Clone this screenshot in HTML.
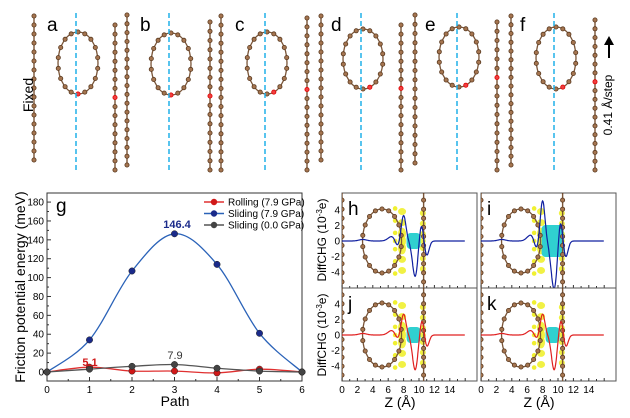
<!DOCTYPE html>
<html><head><meta charset="utf-8">
<style>
body{margin:0;background:#fff;}
svg{display:block;font-family:"Liberation Sans",sans-serif;}
</style></head><body>
<svg id="s" width="630" height="418" viewBox="0 0 630 418" xmlns="http://www.w3.org/2000/svg"></svg>
<script>
var o='';
var AF='#a57550',AS='#5a3a20',LC='#7a5538',R=2.1;
function atom(x,y,red){o+='<circle cx="'+x.toFixed(1)+'" cy="'+y.toFixed(1)+'" r="'+R+'" fill="'+(red?'#f04040':AF)+'" stroke="'+(red?'#d00':AS)+'" stroke-width="0.8"/>';}
function chain(x,y0,y1,redY){
  var n=Math.round((y1-y0)/9);var st=(y1-y0)/n;
  o+='<line x1="'+x+'" y1="'+y0+'" x2="'+x+'" y2="'+y1+'" stroke="'+LC+'" stroke-width="1.4"/>';
  for(var i=0;i<=n;i++){var y=y0+i*st;
    atom(x,y,(redY!=null&&Math.abs(y-redY)<st/2));}
}
function ring(cx,cy,rx,ry,redAng,n){
  n=n||18;
  o+='<ellipse cx="'+cx+'" cy="'+cy+'" rx="'+rx+'" ry="'+ry+'" fill="none" stroke="'+LC+'" stroke-width="1.3"/>';
  for(var i=0;i<n;i++){var a=i/n*2*Math.PI;atom(cx+rx*Math.sin(a),cy-ry*Math.cos(a),redAng!=null&&i==redAng);}
}
var P=[
 {L:34,Ly:[16,160],d:76,R:115,Ry:[25,170],cy:63,ry:31,red:93,ra:9,lab:'a',lx:47},
 {L:127,Ly:[15,165],d:169,R:210,Ry:[22,170],cy:64,ry:31,red:92,ra:9,lab:'b',lx:140},
 {L:221,Ly:[16,170],d:265,R:307,Ry:[18,170],cy:63,ry:31,red:90,ra:8,lab:'c',lx:235},
 {L:321,Ly:[16,160],d:361,R:401,Ry:[25,170],cy:59,ry:30,red:84,ra:8,lab:'d',lx:331},
 {L:415,Ly:[15,163],d:457,R:497,Ry:[22,170],cy:57,ry:30,red:80,ra:8,lab:'e',lx:425},
 {L:511,Ly:[16,165],d:554,R:595,Ry:[20,170],cy:58,ry:31,red:80,ra:8,lab:'f',lx:520}
];
P.forEach(function(p){
  chain(p.L,p.Ly[0],p.Ly[1],null);
  chain(p.R,p.Ry[0],p.Ry[1],p.red);
  ring(p.d+2,p.cy,20,p.ry,p.ra);
  o+='<line x1="'+p.d+'" y1="13" x2="'+p.d+'" y2="170" stroke="#20b0e8" stroke-width="1.5" stroke-dasharray="5,3"/>';
  o+='<text x="'+p.lx+'" y="31" font-size="19">'+p.lab+'</text>';
});
o+='<text transform="translate(33,95) rotate(-90)" font-size="14" text-anchor="middle">Fixed</text>';
o+='<line x1="609" y1="58" x2="609" y2="44" stroke="#000" stroke-width="2"/><path d="M604,45 L609,36 L614,45Z" fill="#000"/>';
o+='<text transform="translate(612,105) rotate(-90)" font-size="12" text-anchor="middle">0.41 Å/step</text>';

var gx0=47,gx1=302,gy0=193,gy1=381;
function gx(v){return gx0+v*42.5;}function gy(v){return 372-v*0.944;}
o+='<rect x="'+gx0+'" y="'+gy0+'" width="'+(gx1-gx0)+'" height="'+(gy1-gy0)+'" fill="none" stroke="#333" stroke-width="1"/>';
for(var v=0;v<=180;v+=20){o+='<line x1="'+gx0+'" y1="'+gy(v)+'" x2="'+(gx0+4)+'" y2="'+gy(v)+'" stroke="#333"/>';
 o+='<text x="'+(gx0-3)+'" y="'+(gy(v)+3.5)+'" font-size="10" text-anchor="end">'+v+'</text>';}
for(var v=10;v<=170;v+=20){o+='<line x1="'+gx0+'" y1="'+gy(v)+'" x2="'+(gx0+2)+'" y2="'+gy(v)+'" stroke="#333"/>';}
for(var v=0;v<=6;v++){o+='<line x1="'+gx(v)+'" y1="'+gy1+'" x2="'+gx(v)+'" y2="'+(gy1-4)+'" stroke="#333"/>';
 o+='<text x="'+gx(v)+'" y="393" font-size="10" text-anchor="middle">'+v+'</text>';
 if(v<6)o+='<line x1="'+gx(v+0.5)+'" y1="'+gy1+'" x2="'+gx(v+0.5)+'" y2="'+(gy1-2)+'" stroke="#333"/>';}
o+='<text x="175" y="406" font-size="14" text-anchor="middle">Path</text>';
o+='<text transform="translate(25,287) rotate(-90)" font-size="14" text-anchor="middle">Friction potential energy (meV)</text>';
o+='<text x="56" y="212" font-size="19">g</text>';
function spline(d){var pts=d.map(function(v,i){return [gx(i),gy(v)];});
 var s='M'+pts[0][0]+','+pts[0][1];
 for(var i=0;i<pts.length-1;i++){var p0=pts[i-1]||pts[i],p1=pts[i],p2=pts[i+1],p3=pts[i+2]||p2;
  s+=' C'+(p1[0]+(p2[0]-p0[0])/6).toFixed(1)+','+(p1[1]+(p2[1]-p0[1])/6).toFixed(1)+' '+(p2[0]-(p3[0]-p1[0])/6).toFixed(1)+','+(p2[1]-(p3[1]-p1[1])/6).toFixed(1)+' '+p2[0].toFixed(1)+','+p2[1].toFixed(1);}
 return s;}
function series(d,c,dot){o+='<path d="'+spline(d)+'" fill="none" stroke="'+c+'" stroke-width="1.3"/>';
 d.forEach(function(v,i){o+='<circle cx="'+gx(i)+'" cy="'+gy(v)+'" r="3.2" fill="'+dot+'" stroke="#222" stroke-width="0.5"/>';});}
series([0,34,107,146.4,114,41,0],'#2a62b8','#1a2a8a');
series([0,5.1,1,1,-1,3,0],'#e03030','#d01818');
series([0,3,6,7.9,4,1,0],'#555','#444');
var leg=[['#e03030','#d01818','Rolling (7.9 GPa)'],['#2a62b8','#1a2a8a','Sliding (7.9 GPa)'],['#555','#444','Sliding (0.0 GPa)']];
leg.forEach(function(l,i){var y=202+i*11.5;o+='<line x1="204" y1="'+y+'" x2="224" y2="'+y+'" stroke="'+l[0]+'" stroke-width="1.5"/><circle cx="214" cy="'+y+'" r="3.2" fill="'+l[1]+'"/>';
 o+='<text x="228" y="'+(y+3.5)+'" font-size="10">'+l[2]+'</text>';});
o+='<text x="177" y="228" font-size="11" font-weight="bold" fill="#1a2a8a" text-anchor="middle">146.4</text>';
o+='<text x="90" y="366" font-size="11" font-weight="bold" fill="#d01818" text-anchor="middle">5.1</text>';
o+='<text x="175" y="359" font-size="11" fill="#333" text-anchor="middle">7.9</text>';

var pans=[
 {x:342,y:193,h:95,lab:'h',c:'#1020a0',g:[[2.7,.2,.5],[6.5,.6,.5],[7.2,-.8,.3],[8,3.3,.3],[9.5,-4.6,.35],[10.3,2.3,.28],[11,-1.9,.3]]},
 {x:481,y:193,h:95,lab:'i',c:'#1020a0',g:[[2.7,.2,.5],[6.5,.8,.5],[7.2,-1.2,.3],[8,5.2,.3],[9.5,-6.2,.4],[10.3,3.1,.28],[11,-2.1,.3]]},
 {x:342,y:288,h:93,lab:'j',c:'#e02020',g:[[2.7,.2,.5],[6.5,.6,.5],[7.2,-.6,.3],[8,2.7,.3],[9.5,-4.5,.35],[10.4,2.1,.28],[11,-1.6,.3]]},
 {x:481,y:288,h:93,lab:'k',c:'#e02020',g:[[2.7,.2,.5],[6.5,.6,.5],[7.2,-.6,.3],[8,2.7,.3],[9.5,-4.5,.35],[10.4,2.1,.28],[11,-1.6,.3]]}
];
pans.forEach(function(p){
 var w=135,cy=p.y+p.h/2+0.5,sx=7.7;
 function X(z){return p.x+z*sx;}function Y(v){return cy-v*7.75;}
 o+='<rect x="'+p.x+'" y="'+p.y+'" width="'+w+'" height="'+p.h+'" fill="#fff" stroke="#555" stroke-width="1"/>';
 o+='<clipPath id="c'+p.lab+'"><rect x="'+p.x+'" y="'+p.y+'" width="'+w+'" height="'+p.h+'"/></clipPath><g clip-path="url(#c'+p.lab+')">';
 var ys=[-4,-2.5,-1,0,1,2.5,4];
 ys.forEach(function(v,i){o+='<ellipse cx="'+X(7.8)+'" cy="'+Y(v*0.95)+'" rx="4" ry="'+(Math.abs(v)<1.5?6:3.5)+'" fill="#f0f030" opacity="0.9"/>';
  o+='<ellipse cx="'+X(10.5)+'" cy="'+Y(v*0.9)+'" rx="3" ry="3" fill="#f0f030" opacity="0.9"/>';
  o+='<circle cx="'+X(6.9)+'" cy="'+Y(v*1.05)+'" r="2.3" fill="#f0f030"/>';});
 var cw=p.lab=='i'?22:14;
 o+='<rect x="'+(X(9.3)-cw/2)+'" y="'+(cy-(p.lab=='i'?16:8))+'" width="'+cw+'" height="'+(p.lab=='i'?32:16)+'" rx="4" fill="#30d0d0"/>';
 o+='<rect x="'+X(8.4)+'" y="'+(cy-3)+'" width="'+(X(10)-X(8.4))+'" height="6" fill="#30d0d0"/>';
 chain(p.x,p.y-2,p.y+p.h+3,null);
 chain(X(10.6),p.y-2,p.y+p.h+3,null);
 ring(X(5.2),cy,19.5,32,null,18);
 var s='';for(var z=0;z<=16;z+=0.05){var v=0;p.g.forEach(function(g){v+=g[1]*Math.exp(-Math.pow((z-g[0])/g[2],2)/2);});
  s+=(s?'L':'M')+X(z).toFixed(1)+','+Y(v).toFixed(1);}
 o+='<path d="'+s+'" fill="none" stroke="'+p.c+'" stroke-width="1.2"/></g>';
 for(var z=0;z<=16;z++){o+='<line x1="'+X(z)+'" y1="'+(p.y+p.h)+'" x2="'+X(z)+'" y2="'+(p.y+p.h-(z%2?2:3))+'" stroke="#333"/>';}
 o+='<text x="'+(p.x+6)+'" y="'+(p.y+22)+'" font-size="19">'+p.lab+'</text>';
 if(p.x==342){[4,2,0,-2,-4].forEach(function(v){o+='<text x="'+(p.x-2)+'" y="'+(Y(v)+3.5)+'" font-size="10" text-anchor="end">'+v+'</text>';});}
});
[342,481].forEach(function(x0){for(var z=0;z<=14;z+=2)o+='<text x="'+(x0+z*7.7)+'" y="393" font-size="10" text-anchor="middle">'+z+'</text>';
 o+='<text x="'+(x0+58)+'" y="407" font-size="14" text-anchor="middle">Z (Å)</text>';});
o+='<text transform="translate(326,240) rotate(-90)" font-size="12" text-anchor="middle">DiffCHG (10<tspan font-size="8" dy="-4">-3</tspan><tspan dy="4">e)</tspan></text>';
o+='<text transform="translate(326,335) rotate(-90)" font-size="12" text-anchor="middle">DiffCHG (10<tspan font-size="8" dy="-4">-3</tspan><tspan dy="4">e)</tspan></text>';
document.getElementById('s').innerHTML=o;
</script>
</body></html>
